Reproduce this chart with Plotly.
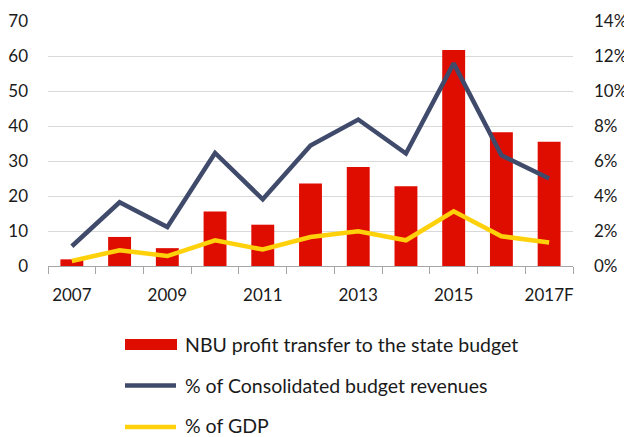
import plotly.graph_objects as go

years = ["2007", "2008", "2009", "2010", "2011", "2012", "2013", "2014", "2015", "2016", "2017F"]
tick_labels = ["2007", "", "2009", "", "2011", "", "2013", "", "2015", "", "2017F"]
nbu_transfer = [1.9, 8.3, 5.1, 15.6, 11.8, 23.6, 28.3, 22.8, 61.7, 38.2, 35.5]
pct_budget = [1.13, 3.64, 2.23, 6.46, 3.81, 6.89, 8.37, 6.43, 11.58, 6.33, 5.0]
pct_gdp = [0.29, 0.90, 0.57, 1.47, 0.94, 1.66, 1.98, 1.47, 3.13, 1.70, 1.34]

RED = "#DF0C00"
BLUE = "#404A6A"
YELLOW = "#FFD10A"
FONT = "Lato"
TXT = "#1a1a1a"

fig = go.Figure()
fig.add_trace(go.Bar(x=years, y=nbu_transfer, marker=dict(color=RED, line=dict(width=0)),
                     name="NBU profit transfer to the state budget", yaxis="y"))
fig.add_trace(go.Scatter(x=years, y=pct_budget, mode="lines", line=dict(color=BLUE, width=4.5),
                         name="% of Consolidated budget revenues", yaxis="y2"))
fig.add_trace(go.Scatter(x=years, y=pct_gdp, mode="lines", line=dict(color=YELLOW, width=4.5),
                         name="% of GDP", yaxis="y2"))

# page body has an 8px margin, so the figure is 8px smaller and its margins shifted
fig.update_layout(
    width=624, height=429,
    margin=dict(l=40, r=59, t=13, b=171),
    plot_bgcolor="white", paper_bgcolor="white",
    showlegend=False,
    bargap=0.52,
    font=dict(family=FONT, size=17, color=TXT),
    xaxis=dict(type="category", tickmode="array", tickvals=years, ticktext=tick_labels,
               tickson="boundaries", ticks="outside", ticklen=7, tickcolor="#A6A6A6",
               showline=True, linecolor="#A6A6A6", linewidth=1, showgrid=False,
               tickangle=0, automargin=False,
               ticklabelstandoff=14, tickfont=dict(size=17)),
    yaxis=dict(range=[0, 70], dtick=10, showgrid=True, gridcolor="#D9D9D9", gridwidth=1,
               zeroline=False, ticks="", ticklabelstandoff=19, automargin=False,
               tickfont=dict(size=17)),
    yaxis2=dict(range=[0, 14], dtick=2, overlaying="y", side="right", showgrid=False,
                zeroline=False, ticksuffix="%", ticks="", ticklabelstandoff=20,
                automargin=False, tickfont=dict(size=17)),
)

# custom legend below the plot (positions given in page pixels)
def px_x(p):
    return (p - 48) / 525.0

def px_y(p):
    return (266 - p) / 245.0

fig.add_shape(type="rect", xref="paper", yref="paper", x0=px_x(125), x1=px_x(177),
              y0=px_y(350), y1=px_y(339), fillcolor=RED, line=dict(width=0))
fig.add_shape(type="line", xref="paper", yref="paper", x0=px_x(125), x1=px_x(176),
              y0=px_y(385.5), y1=px_y(385.5), line=dict(color=BLUE, width=4.5))
fig.add_shape(type="line", xref="paper", yref="paper", x0=px_x(125), x1=px_x(176),
              y0=px_y(427), y1=px_y(427), line=dict(color=YELLOW, width=4.5))

legend_names = [t.name for t in fig.data]
for name, yy in zip(legend_names, [344.5, 385, 426]):
    fig.add_annotation(text=name, xref="paper", yref="paper", x=px_x(183), y=px_y(yy),
                       xanchor="left", yanchor="middle", showarrow=False,
                       font=dict(family=FONT, size=19.5, color=TXT))

fig.write_html("out.html")
